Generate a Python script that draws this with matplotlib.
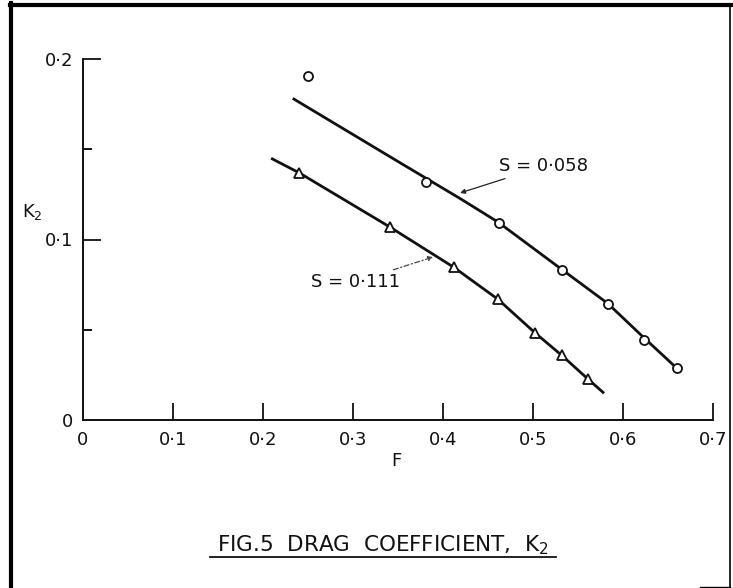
import matplotlib
matplotlib.use("Agg")
import matplotlib.pyplot as plt
from matplotlib.lines import Line2D

plt.rcParams['font.family'] = ['DejaVu Sans']
plt.rcParams['mathtext.fontset'] = 'dejavusans'

# ---- data ----
# S = 0.058 : measured points (circles) and faired curve
s058_F = [0.250, 0.381, 0.462, 0.532, 0.583, 0.623, 0.660]
s058_K = [0.1906, 0.1317, 0.1093, 0.0831, 0.0643, 0.0443, 0.0286]
s058_curve_F = [0.233, 0.350, 0.419, 0.461, 0.532, 0.583, 0.623, 0.660]
s058_curve_K = [0.1782, 0.1432, 0.1227, 0.1097, 0.0834, 0.0646, 0.0457, 0.0286]

# S = 0.111 : measured points (triangles) and faired curve
s111_F = [0.240, 0.341, 0.412, 0.461, 0.502, 0.532, 0.561]
s111_K = [0.1370, 0.1069, 0.0846, 0.0669, 0.0484, 0.0358, 0.0227]
s111_curve_F = [0.209, 0.240, 0.341, 0.412, 0.461, 0.502, 0.532, 0.561, 0.579]
s111_curve_K = [0.1450, 0.1370, 0.1069, 0.0846, 0.0669, 0.0484, 0.0358, 0.0227, 0.0148]

x_ticks = [0, 0.1, 0.2, 0.3, 0.4, 0.5, 0.6, 0.7]
x_ticklabels = ['0', '0·1', '0·2', '0·3', '0·4', '0·5', '0·6', '0·7']
y_ticks = [0, 0.1, 0.2]
y_ticklabels = ['0', '0·1', '0·2']
y_minor = [0.05, 0.15]

label_058 = 'S = 0·058'
label_111 = 'S = 0·111'
title = 'FIG.5  DRAG  COEFFICIENT,  K$_2$'

# ---- figure ----
W, H = 733, 588
fig = plt.figure(figsize=(W / 100, H / 100), dpi=100)
fig.patch.set_facecolor('white')

def fx(px):
    return px / W

def fy(py):
    return 1 - py / H

ax = fig.add_axes([fx(83), fy(420), fx(713) - fx(83), fy(59) - fy(420)])
ax.set_xlim(0, 0.7)
ax.set_ylim(0, 0.2)

for s in ['top', 'right']:
    ax.spines[s].set_visible(False)
for s in ['left', 'bottom']:
    ax.spines[s].set_linewidth(1.4)
    ax.spines[s].set_color('#111111')

ax.set_xticks(x_ticks)
ax.set_xticklabels(x_ticklabels)
ax.set_yticks(y_ticks)
ax.set_yticklabels(y_ticklabels)
ax.set_yticks(y_minor, minor=True)
ax.tick_params(axis='x', which='major', direction='in', length=12, width=1.3,
               pad=8, labelsize=13, colors='#111111')
ax.tick_params(axis='y', which='major', direction='in', length=13, width=1.3,
               pad=7, labelsize=13, colors='#111111')
ax.tick_params(axis='y', which='minor', direction='in', length=6.5, width=1.3)
ax.xaxis.get_major_ticks()[0].tick1line.set_visible(False)
ax.yaxis.get_major_ticks()[0].tick1line.set_visible(False)

# curves
ax.plot(s058_curve_F, s058_curve_K, color='#111111', lw=2.0,
        solid_capstyle='butt', solid_joinstyle='round')
ax.plot(s111_curve_F, s111_curve_K, color='#111111', lw=2.0,
        solid_capstyle='butt', solid_joinstyle='round')
# points
ax.plot(s058_F, s058_K, linestyle='none', marker='o', ms=6.5, mfc='white',
        mec='#111111', mew=1.3, clip_on=False, zorder=3)
ax.plot(s111_F, s111_K, linestyle='none', marker='^', ms=7.5, mfc='white',
        mec='#111111', mew=1.3, clip_on=False, zorder=3)

# labels with leaders
ax.annotate(label_058, xy=(0.419, 0.1258), xytext=(0.462, 0.1405),
            ha='left', va='center', fontsize=13, color='#111111',
            arrowprops=dict(arrowstyle='-|>', lw=0.9, color='#222222',
                            mutation_scale=7, shrinkA=1, shrinkB=0))
ax.annotate(label_111, xy=(0.389, 0.0903), xytext=(0.352, 0.0765),
            ha='right', va='center', fontsize=13, color='#111111',
            arrowprops=dict(arrowstyle='-|>', lw=0.9, color='#444444',
                            linestyle=(0, (4, 2, 1, 2)),
                            mutation_scale=7, shrinkA=1, shrinkB=0))

# axis labels
fig.text(fx(396), fy(461), 'F', ha='center', va='center', fontsize=13, color='#111111')
fig.text(fx(32), fy(212), 'K$_2$', ha='center', va='center', fontsize=13, color='#111111')

# caption
fig.text(fx(383), fy(545), title, ha='center', va='center', fontsize=15.5, color='#111111')
fig.add_artist(Line2D([fx(210), fx(556)], [fy(557), fy(557)], color='#111111', lw=1.3))

# page frame
fig.add_artist(Line2D([fx(11), fx(11)], [fy(3), fy(588)], color='black', lw=3.0))
fig.add_artist(Line2D([fx(9.5), fx(731)], [fy(5), fy(5)], color='black', lw=3.0))
fig.add_artist(Line2D([fx(730), fx(730)], [fy(4), fy(587)], color='black', lw=1.2))
fig.add_artist(Line2D([fx(700), fx(730)], [fy(587), fy(587)], color='black', lw=1.0))

fig.savefig('out.png', dpi=100, facecolor='white')
